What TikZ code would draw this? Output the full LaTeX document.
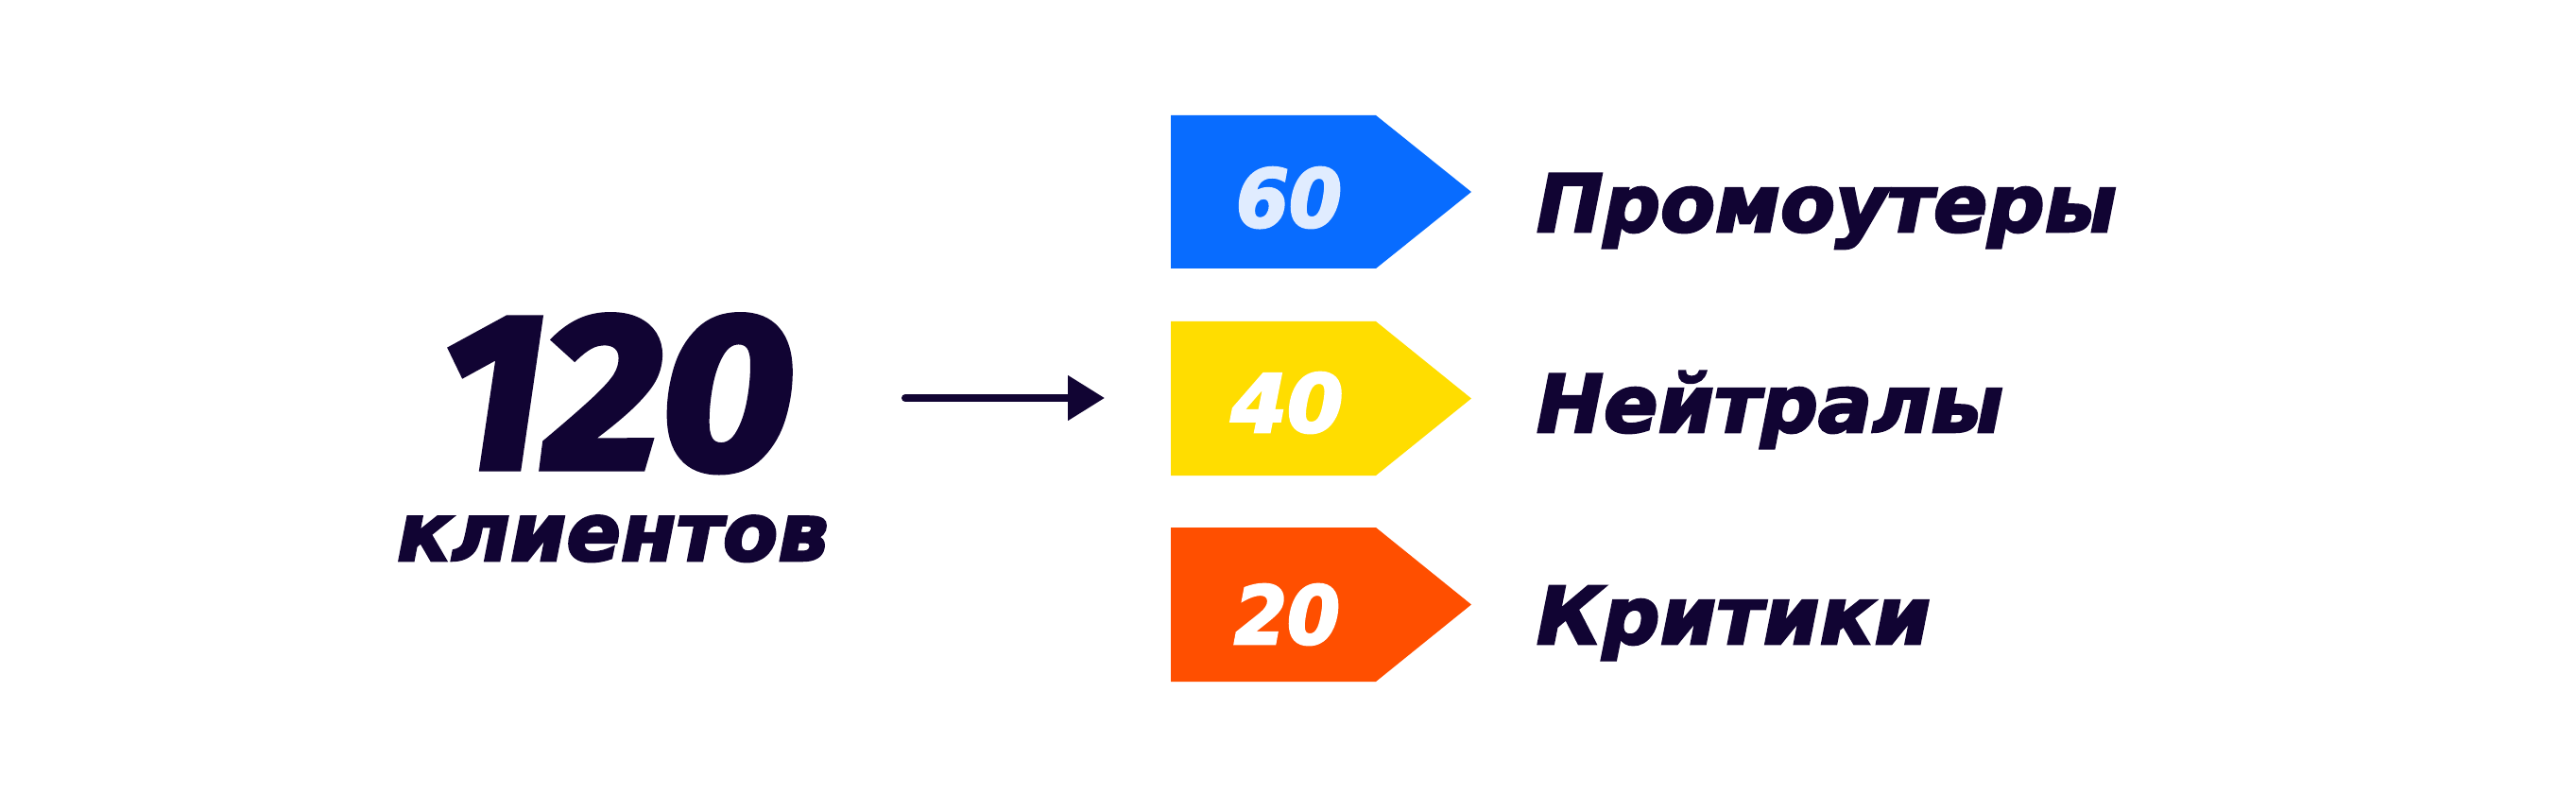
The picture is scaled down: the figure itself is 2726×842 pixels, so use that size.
\documentclass[tikz,border=0pt]{standalone}
\usepackage{fontspec}
\newfontfamily\hvfam{DejaVu Sans}[FakeBold=3]
\newfontfamily\figfam{Fira Sans}[FakeBold=3]
\usetikzlibrary{arrows.meta}
\definecolor{ink}{HTML}{110433}
\definecolor{cblue}{HTML}{086CFF}
\definecolor{cyellow}{HTML}{FFDD00}
\definecolor{corange}{HTML}{FF4F00}
\definecolor{paleblue}{HTML}{E0ECFF}
\newcommand{\hvy}[1]{\hvfam\fontsize{#1}{#1}\selectfont\bfseries\itshape}
\newcommand{\bigfig}[1]{\figfam\fontsize{#1}{#1}\selectfont\bfseries\itshape}
\begin{document}
\begin{tikzpicture}[x=1pt,y=-1pt,
  every node/.style={inner sep=0pt, outer sep=0pt},
  catlabel/.style={text=ink, anchor=base west},
  numlabel/.style={anchor=base},
  pointer/.style={ink, line width=8pt, line cap=round, -{Triangle[length=39pt,width=46pt]}}]
\useasboundingbox (0,0) rectangle (2726,842);
\fill[white] (0,0) rectangle (2726,842);
% tags
\fill[cblue]   (1239,122) -- (1456,122) -- (1557,203)   -- (1456,284) -- (1239,284) -- cycle;
\fill[cyellow] (1239,340) -- (1456,340) -- (1557,421.5) -- (1456,503) -- (1239,503) -- cycle;
\fill[corange] (1239,558) -- (1456,558) -- (1557,639.5) -- (1456,721) -- (1239,721) -- cycle;
% numbers
\node[numlabel, text=paleblue] (n60) at (1364,240) {\resizebox{112pt}{\height}{\hvy{85}60}};
\node[numlabel, text=white] (n40) at (1362,457) {\resizebox{119pt}{\height}{\hvy{85}40}};
\node[numlabel, text=white] (n20) at (1362,681) {\resizebox{112pt}{\height}{\hvy{85}20}};
% category labels
\node[catlabel] (lp) at (1626,245) {\resizebox{614pt}{\height}{\hvy{84}Промоутеры}};
\node[catlabel] (ln) at (1626,457) {\resizebox{494pt}{\height}{\hvy{84}Нейтралы}};
\node[catlabel] (lk) at (1626,681) {\resizebox{417pt}{\height}{\hvy{84}Критики}};
% total
\node[anchor=base, text=ink] (total) at (653,495) {\resizebox{374pt}{\height}{\bigfig{234}120}};
\node[anchor=base, text=ink] (clients) at (648.5,593) {\resizebox{457pt}{\height}{\hvy{85}клиентов}};
% arrow
\coordinate (as) at (958,421);
\coordinate (ae) at (1169,421);
\draw[pointer] (as) -- (ae);
\end{tikzpicture}
\end{document}
